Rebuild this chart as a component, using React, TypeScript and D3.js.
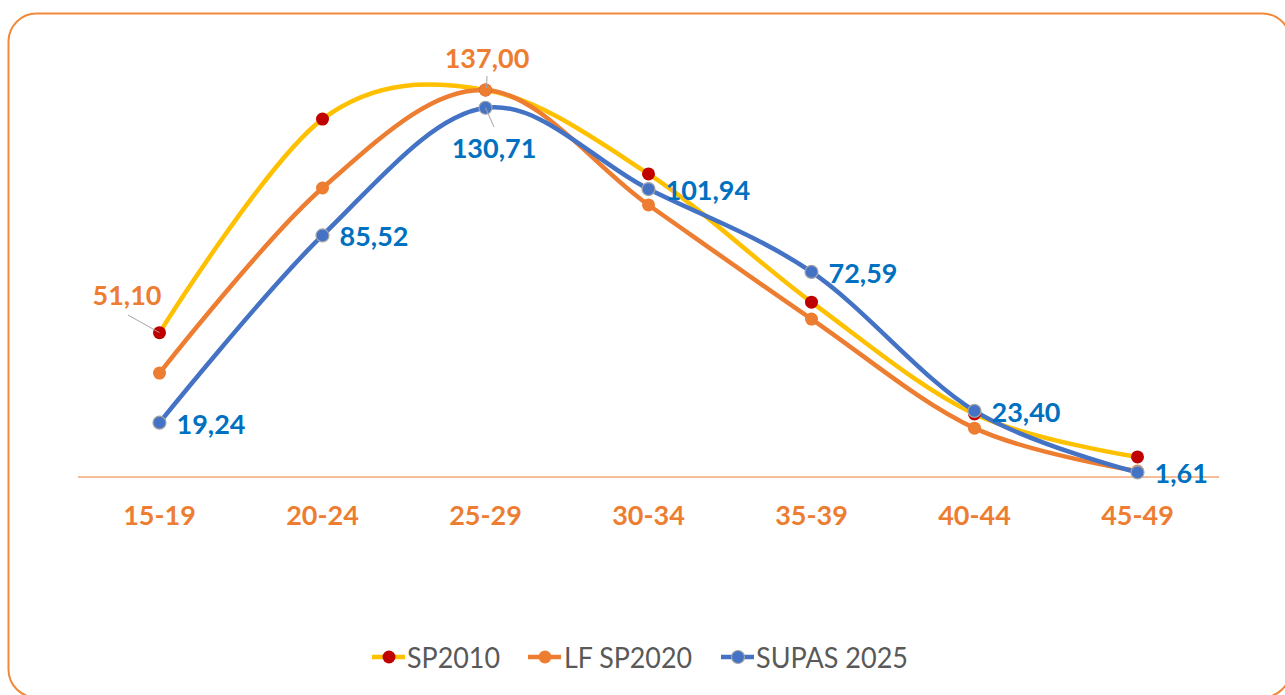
import React from "react";
import * as d3 from "d3";

const categories = ["15-19", "20-24", "25-29", "30-34", "35-39", "40-44", "45-49"];
const sp2010 = [51.1, 126.7, 137.0, 107.3, 61.9, 22.3, 7.1];
const lfsp2020 = [36.8, 102.3, 137.0, 96.3, 55.9, 17.3, 2.1];
const supas2025 = [19.24, 85.52, 130.71, 101.94, 72.59, 23.4, 1.61];

const seriesNames = ["SP2010", "LF SP2020", "SUPAS 2025"];

const W = 1285;
const H = 695;
const FONT = "Lato, 'Open Sans', sans-serif";

export default function App() {
  const x = d3.scaleBand<string>().domain(categories).range([78, 1219]);
  const y = d3.scaleLinear().domain([0, 137]).range([477, 90]);
  const cx = (c: string) => (x(c) as number) + x.bandwidth() / 2;

  const line = d3
    .line<number>()
    .x((_, i) => cx(categories[i]))
    .y((d) => y(d))
    .curve(d3.curveCatmullRom.alpha(0));

  const series = [
    { name: seriesNames[0], data: sp2010, line: "#FFC000", marker: "#C00000", stroke: "none" },
    { name: seriesNames[1], data: lfsp2020, line: "#ED7D31", marker: "#ED7D31", stroke: "none" },
    { name: seriesNames[2], data: supas2025, line: "#4472C4", marker: "#4472C4", stroke: "#A5A5A5" },
  ];

  const fmt = (v: number) => v.toFixed(2).replace(".", ",");
  const blue = "#0070C0";
  const orange = "#ED7D31";
  const LS = 27;

  const legendItems = [
    { s: series[0], x: 372, tx: 407, tl: 93 },
    { s: series[1], x: 528, tx: 564, tl: 128 },
    { s: series[2], x: 721, tx: 756, tl: 152 },
  ];

  return (
    <svg
      width={W}
      height={H}
      style={{ position: "absolute", left: 0, top: 0 }}
      fontFamily={FONT}
    >
      <rect x={8.5} y={13.5} width={1282} height={684} rx={28} ry={28} fill="#fff" stroke="#F08A3A" strokeWidth={2} />

      {/* baseline */}
      <line x1={78} x2={1219} y1={y(0)} y2={y(0)} stroke="#ED7D31" strokeWidth={1} />

      {/* x axis labels */}
      {categories.map((c) => (
        <text key={c} x={cx(c)} y={525} textAnchor="middle" fontSize={LS} fontWeight={700} fill="#ED7D31">
          {c}
        </text>
      ))}

      {/* lines */}
      {series.map((s) => (
        <path key={s.name} d={line(s.data) || ""} fill="none" stroke={s.line} strokeWidth={4.5} strokeLinecap="round" />
      ))}
      {/* markers */}
      {series.map((s) =>
        s.data.map((v, i) => (
          <circle
            key={s.name + i}
            cx={cx(categories[i])}
            cy={y(v)}
            r={6.5}
            fill={s.marker}
            stroke={s.stroke}
            strokeWidth={s.stroke === "none" ? 0 : 1.2}
          />
        ))
      )}

      {/* leader lines */}
      <line x1={128} y1={315} x2={cx(categories[0])} y2={y(sp2010[0])} stroke="#A5A5A5" strokeWidth={1} />
      <line x1={487} y1={76} x2={cx(categories[2]) + 1} y2={y(lfsp2020[2]) - 2} stroke="#A5A5A5" strokeWidth={1} />
      <line x1={cx(categories[2])} y1={y(supas2025[2])} x2={494} y2={127} stroke="#A5A5A5" strokeWidth={1} />

      {/* data labels */}
      <text x={127} y={305} textAnchor="middle" fontSize={LS} fontWeight={700} fill={orange}>
        {fmt(sp2010[0])}
      </text>
      <text x={487} y={68} textAnchor="middle" fontSize={LS} fontWeight={700} fill={orange}>
        {fmt(lfsp2020[2])}
      </text>
      <text x={494} y={158} textAnchor="middle" fontSize={LS} fontWeight={700} fill={blue}>
        {fmt(supas2025[2])}
      </text>
      {supas2025.map((v, i) =>
        i === 2 ? null : (
          <text
            key={"l" + i}
            x={cx(categories[i]) + 17}
            y={y(v) + 11}
            fontSize={LS}
            fontWeight={700}
            fill={blue}
          >
            {fmt(v)}
          </text>
        )
      )}

      {/* legend */}
      {legendItems.map(({ s, x: lx, tx, tl }) => (
        <g key={s.name}>
          <line x1={lx} x2={lx + 33} y1={657} y2={657} stroke={s.line} strokeWidth={4.5} />
          <circle cx={lx + 17} cy={657} r={6.5} fill={s.marker} stroke={s.stroke} strokeWidth={s.stroke === "none" ? 0 : 1.2} />
          <text x={tx} y={668} fontSize={28} fill="#595959" textLength={tl} lengthAdjust="spacingAndGlyphs">
            {s.name}
          </text>
        </g>
      ))}
    </svg>
  );
}
